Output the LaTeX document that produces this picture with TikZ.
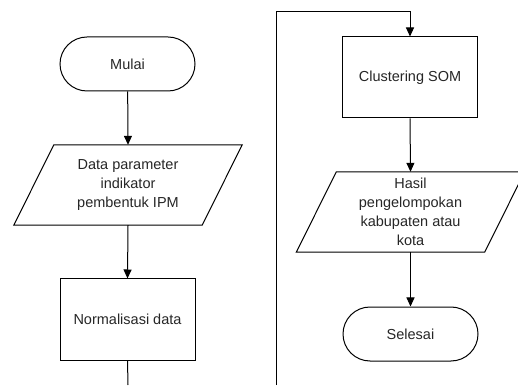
\documentclass[tikz,border=0pt]{standalone}
\usepackage{fontspec}
\setmainfont{Liberation Sans}
\usetikzlibrary{arrows.meta}
\begin{document}
\begin{tikzpicture}[x=1pt,y=1pt,
  every node/.style={font=\fontsize{14.5}{19}\selectfont, text=black!85, align=center, inner sep=0pt},
  term/.style={draw=black, line width=1pt, minimum width=135pt, minimum height=54pt, rounded corners=27pt},
  proc/.style={draw=black, line width=1pt, minimum width=135pt, minimum height=81pt},
  io/.style={minimum width=148pt, minimum height=80pt},
  iobox/.style={draw=black, line width=1pt, line join=miter},
  flow/.style={draw=black, line width=1pt, -{Triangle[length=9pt,width=8pt]}},
  wire/.style={draw=black, line width=1pt}
]
\clip (0,0) rectangle (518,385);
% left column
\node[term] (mulai) at (127.5,321) {Mulai};
\node[io] (data) at (128,200) {Data parameter\\indikator\\pembentuk IPM};
\draw[iobox] (data.north west) -- ([xshift=40pt]data.north east) -- (data.south east) -- ([xshift=-40pt]data.south west) -- cycle;
\node[proc] (norm) at (127.5,65.5) {Normalisasi data};
\coordinate (lend) at (128,0);
\draw[flow] (mulai) -- (data.north);
\draw[flow] (data.south) -- (norm.north);
\draw[wire] (norm.south) -- (lend);
% right column
\coordinate (rstart) at (276,0);
\coordinate (rtop) at (276,373);
\node[proc] (clus) at (410,307.5) {Clustering SOM};
\node[io] (hasil) at (410.5,173) {Hasil\\pengelompokan\\kabupaten atau\\kota};
\draw[iobox] (hasil.north west) -- ([xshift=40pt]hasil.north east) -- (hasil.south east) -- ([xshift=-40pt]hasil.south west) -- cycle;
\node[term] (selesai) at (410.5,51) {Selesai};
\draw[flow] (rstart) -- (rtop) -| (clus.north);
\draw[flow] (clus.south) -- (hasil.north);
\draw[flow] (hasil.south) -- (selesai.north);
\end{tikzpicture}
\end{document}
